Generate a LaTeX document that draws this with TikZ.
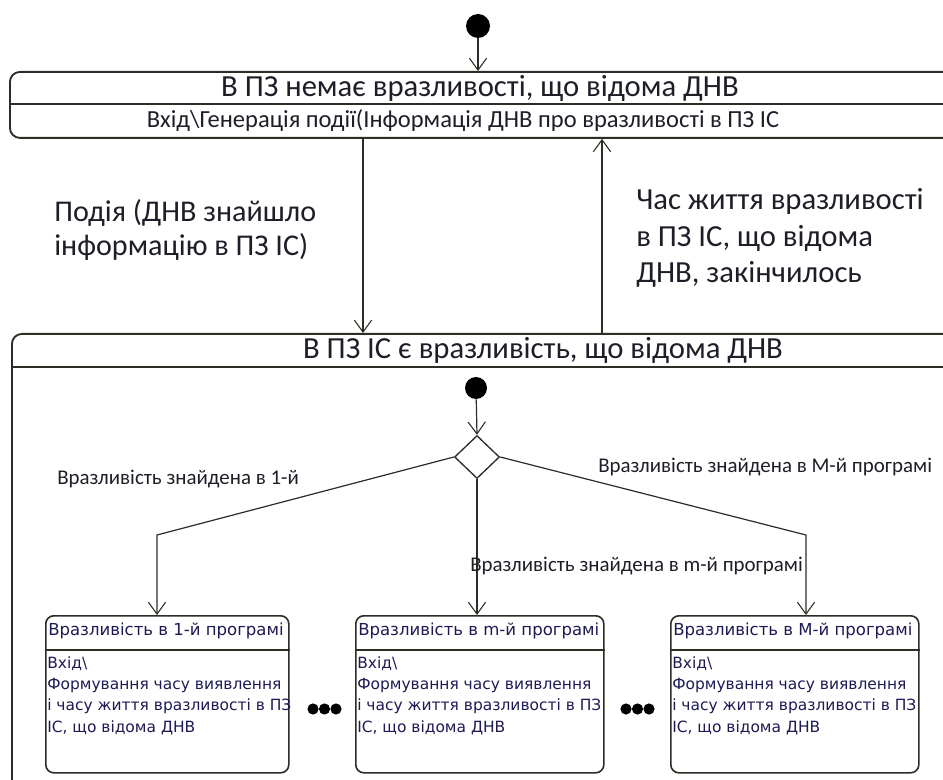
\documentclass[tikz,border=0pt]{standalone}
\usepackage{fontspec}
\setmainfont{Carlito}
\newfontfamily\boxfont{DejaVu Sans}
\usetikzlibrary{arrows.meta,shapes.geometric}

\definecolor{ink}{RGB}{30,30,40}
\definecolor{boxink}{RGB}{30,26,85}
\definecolor{edge}{RGB}{45,45,38}

\tikzset{
  statebox/.style={draw=edge, line width=1.4pt, rounded corners=7.5pt, anchor=north west, inner sep=0pt},
  substate/.style={draw=edge, line width=1.2pt, rounded corners=6pt, anchor=north west, inner sep=0pt,
                   minimum height=117.75pt},
  startdot/.style={circle, fill=black, inner sep=0pt},
  choice/.style={diamond, draw=edge, line width=1pt, inner sep=0pt, minimum width=33.75pt, minimum height=32.25pt},
  flow/.style={draw=edge, line width=0.9pt, -{Straight Barb[length=9pt,width=13pt,line width=0.8pt]}},
  divider/.style={draw=edge, line width=1.1pt},
  biglabel/.style={anchor=west, inner sep=0pt, text=ink, align=left},
  guard/.style={anchor=west, inner sep=0pt, text=ink, font=\fontsize{15.7}{18}\selectfont},
  subtitle/.style={anchor=west, inner sep=0pt, text=boxink, font=\boxfont\fontsize{12.4}{15}\selectfont},
  subbody/.style={anchor=north west, inner sep=0pt, text=boxink, align=left,
                  font=\boxfont\fontsize{11.6}{16}\selectfont},
  ell/.style={circle, fill=black, inner sep=0pt, minimum size=8.4pt}
}

\begin{document}
\begin{tikzpicture}[x=0.75pt, y=-0.75pt]
\useasboundingbox (0,0) rectangle (943,780);
\clip (0,0) rectangle (943,780);
\fill[white] (0,0) rectangle (943,780);

% upper state
\node[statebox, minimum width=717pt, minimum height=49.5pt] (top) at (9,71) {};
\draw[divider] (top.west |- 0,104) -- (top.east |- 0,104);
\node[text=ink, inner sep=0pt, font=\fontsize{23}{26}\selectfont] (toptitle) at (480,88)
  {В ПЗ немає вразливості, що відома ДНВ};
\node[text=ink, inner sep=0pt, font=\fontsize{18.4}{21}\selectfont] (topentry) at (463,121)
  {Вхід\textbackslash Генерація події(Інформація ДНВ про вразливості в ПЗ ІС};

% lower composite state
\node[statebox, minimum width=715.5pt, minimum height=360pt] (bot) at (11,333) {};
\draw[divider] (bot.west |- 0,367) -- (bot.east |- 0,367);
\node[text=ink, inner sep=0pt, font=\fontsize{23}{26}\selectfont] (bottitle) at (543,350)
  {В ПЗ ІС є вразливість, що відома ДНВ};

% initial pseudostate and transitions between the two states
\node[startdot, minimum size=18pt] (start) at (478,26) {};
\draw[flow] (start) -- (start |- top.north);

\coordinate (dn) at (363,0);
\coordinate (up) at (602,0);
\draw[flow] (top.south -| dn) -- (bot.north -| dn);
\draw[flow] (bot.north -| up) -- (top.south -| up);

\node[biglabel, font=\fontsize{22.6}{25}\selectfont] (evlabel) at (54,230)
  {Подія (ДНВ знайшло\\інформацію в ПЗ ІС)};
\node[biglabel, font=\fontsize{23}{27.5}\selectfont] (ttllabel) at (636,238)
  {Час життя вразливості\\в ПЗ ІС, що відома\\ДНВ, закінчилось};

% inner initial pseudostate and choice
\node[startdot, minimum size=16.5pt] (istart) at (476,388) {};
\node[choice] (ch) at (477,457) {};
\draw[flow] (istart) -- (ch.north);

% substates
\node[substate, minimum width=182.25pt] (s1) at (45,615) {};
\node[substate, minimum width=186pt] (s2) at (355,615) {};
\node[substate, minimum width=186pt] (s3) at (670,615) {};
\foreach \s in {s1,s2,s3}{
  \draw[divider] (\s.west |- 0,650) -- (\s.east |- 0,650);
}

\node[subtitle] (s1title) at (48,631) {Вразливість в 1-й програмі};
\node[subtitle] (s2title) at (358,631) {Вразливість в m-й програмі};
\node[subtitle] (s3title) at (673,631) {Вразливість в М-й програмі};

\node[subbody] (s1body) at (47,656)
  {Вхід\textbackslash\\Формування часу виявлення\\і часу життя вразливості в ПЗ\\ІС, що відома ДНВ};
\node[subbody] (s2body) at (357,656)
  {Вхід\textbackslash\\Формування часу виявлення\\і часу життя вразливості в ПЗ\\ІС, що відома ДНВ};
\node[subbody] (s3body) at (672,656)
  {Вхід\textbackslash\\Формування часу виявлення\\і часу життя вразливості в ПЗ\\ІС, що відома ДНВ};

% branches from the choice
\coordinate (b1) at (157,535);
\coordinate (b3) at (806,535);
\draw[flow] (ch.west) -- (b1) -- (b1 |- s1.north);
\draw[flow] (ch.south) -- (ch.south |- s2.north);
\draw[flow] (ch.east) -- (b3) -- (b3 |- s3.north);

\node[guard] (g1) at (57,479) {Вразливість знайдена в 1-й};
\node[guard] (gm) at (470,566) {Вразливість знайдена в m-й програмі};
\node[guard] (gM) at (598,467) {Вразливість знайдена в М-й програмі};

% ellipses between substates
\foreach \x [count=\i] in {313,324.5,336}{
  \node[ell] (ea\i) at (\x,709) {};
}
\foreach \x [count=\i] in {626,637.5,649}{
  \node[ell] (eb\i) at (\x,709) {};
}
\end{tikzpicture}
\end{document}
